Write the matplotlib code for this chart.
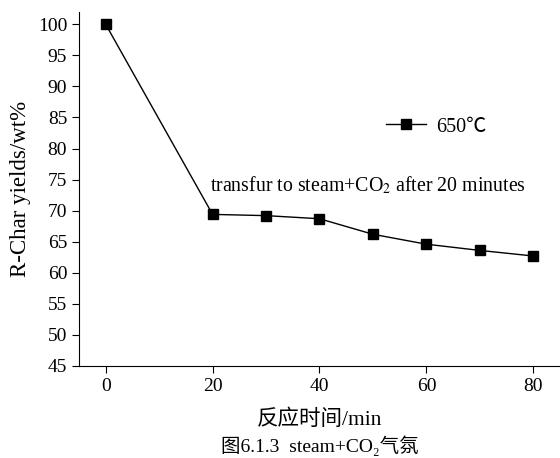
import matplotlib.pyplot as plt

plt.rcParams['font.family'] = ['Liberation Serif', 'Noto Sans CJK SC']
plt.rcParams['mathtext.fontset'] = 'stix'

# Dati
t = [0, 20, 30, 40, 50, 60, 70, 80]
resa = [100, 69.4, 69.2, 68.7, 66.2, 64.6, 63.6, 62.7]

fig = plt.figure(figsize=(5.6, 4.58), dpi=100)
ax = fig.add_axes([0.141, 0.201, 0.859, 0.773])

ax.plot(t, resa, '-s', color='black', lw=1, markersize=6.5, label='650℃')

ax.set_xlim(-5, 85)
ax.set_ylim(45, 102)
ax.set_xticks([0, 20, 40, 60, 80])
ax.set_yticks(range(45, 101, 5))
ax.spines['top'].set_visible(False)
ax.spines['right'].set_visible(False)
ax.tick_params(labelsize=14, direction='out', length=5)

ax.set_ylabel('R-Char yields/wt%', fontsize=16.5, labelpad=5)
fam = ['Liberation Serif', 'Noto Sans CJK SC']
ax.text(0.5, -0.152, '反应时间/min', transform=ax.transAxes, ha='center',
        va='center', fontsize=15.5, family=fam)
ax.text(0.5, -0.225, '图6.1.3  steam+CO₂气氛', transform=ax.transAxes, ha='center',
        va='center', fontsize=14, family=fam)

ax.text(19.5, 74.1, 'transfur to steam+CO$_2$ after 20 minutes', fontsize=14.3, va='center')

ax.legend(loc='center left', bbox_to_anchor=(0.6, 0.675), frameon=False, fontsize=14.5,
          handlelength=2.0, handletextpad=0.5)

plt.savefig('out.png')
